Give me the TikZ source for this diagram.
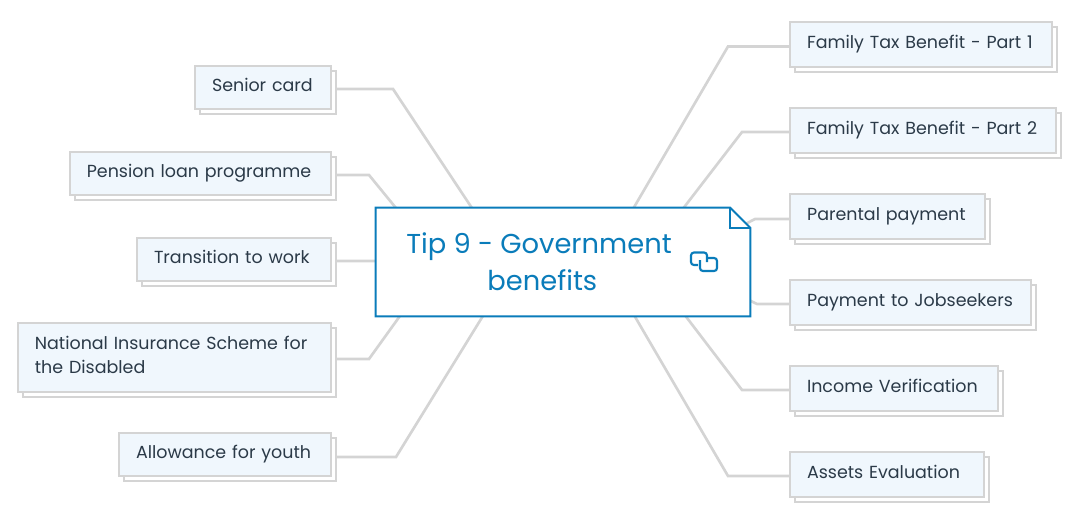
\documentclass[tikz,border=0pt]{standalone}
\usepackage{fontspec}
\setmainfont{Poppins}
\usetikzlibrary{shadows}
\usetikzlibrary{backgrounds}
\usetikzlibrary{calc}
\definecolor{linegray}{HTML}{D4D4D4}
\definecolor{boxfill}{HTML}{F0F7FD}
\definecolor{bodyink}{HTML}{2B3A48}
\definecolor{mainblue}{HTML}{0A7CBA}
\tikzset{
	topic/.style={draw=linegray,line width=1.7pt,fill=boxfill,inner sep=0,text=bodyink,align=left,
		font=\fontsize{13.1}{18}\selectfont,text height=9.6pt,text depth=3.15pt,
		copy shadow={draw=linegray,fill=white,shadow xshift=3.75pt,shadow yshift=-3.75pt}},
	link/.style={draw=linegray,line width=2pt},
	mainline/.style={draw=mainblue,line width=1.5pt}
}
\begin{document}
\begin{tikzpicture}[x=0.75pt,y=-0.75pt]
\useasboundingbox (0,0) rectangle (1077,520);
% left side
\node[topic,minimum width=102pt,minimum height=32.6pt,text width=76.5pt] (senior) at (263,87.5) {Senior card};
\node[topic,minimum width=196pt,minimum height=32.6pt,text width=170.5pt] (pension) at (200.5,173.5) {Pension loan programme};
\node[topic,minimum width=145.5pt,minimum height=32.6pt,text width=120pt] (transition) at (234,259.5) {Transition to work};
\node[topic,minimum width=235pt,minimum height=51.7pt,text width=209.5pt,text depth=21.15pt] (insurance) at (174.5,357.5) {National Insurance Scheme for\\the Disabled};
\node[topic,minimum width=159pt,minimum height=32.6pt,text width=133.5pt] (youth) at (225,454.5) {Allowance for youth};
% right side
\node[topic,minimum width=196.5pt,minimum height=33.8pt,text width=171pt] (part one) at (921,44.5) {Family Tax Benefit - Part 1};
\node[topic,minimum width=199.5pt,minimum height=33.8pt,text width=174pt] (part two) at (923,130.5) {Family Tax Benefit - Part 2};
\node[topic,minimum width=146pt,minimum height=33.8pt,text width=120.5pt] (parental) at (887.5,216.5) {Parental payment};
\node[topic,minimum width=180.5pt,minimum height=33.8pt,text width=155pt] (jobseekers) at (910.5,302.5) {Payment to Jobseekers};
\node[topic,minimum width=156pt,minimum height=33.8pt,text width=130.5pt] (income) at (894,388.5) {Income Verification};
\node[topic,minimum width=145.5pt,minimum height=33.8pt,text width=120pt] (assets) at (887,474.5) {Assets Evaluation};
% centre
\node[minimum width=280.5pt,minimum height=81pt,inner sep=0] (main) at (563,262) {};
\draw[mainline,fill=white] (main.north west) -- ($(main.north east)+(-20,0)$) -- ($(main.north east)+(0,20)$) -- (main.south east) -- (main.south west) -- cycle;
\draw[mainline] ($(main.north east)+(-20,0)$) -- ($(main.north east)+(-20,20)$) -- ($(main.north east)+(0,20)$);
\node[text=mainblue,align=center,font=\fontsize{20.5}{27.6}\selectfont] (title) at (539,262) {Tip 9 - Government\\\hspace*{5pt}benefits};
\draw[mainblue,line width=1.6pt,rounded corners=2.2pt] (698,265) -- (691,265) -- (691,252.5) -- (707,252.5) -- (707,262);
\draw[mainblue,line width=1.6pt,rounded corners=2.2pt] (707,258) -- (717,258) -- (717,271) -- (700,271) -- (700,260);
% connectors
\begin{pgfonlayer}{background}
\foreach \name/\bendx/\bendy/\anc/\dx/\dy in {
	senior/393/89/north west/96/0, pension/369/175/north west/20/0,
	transition/376/261/north west/5/54, insurance/369/359/south west/24/0,
	youth/396/457/south west/107/0,
	part one/728/46.5/north west/258/0, part two/742/132/north west/308/0,
	parental/755/219/north east/-10/19, jobseekers/757/304/south east/-5/-18,
	income/742/390/south west/310/0, assets/728/476/south west/259/0} {
	\coordinate (\name bend) at (\bendx,\bendy);
	\draw[link] (\name bend -| \name.east) -- (\name bend) -- ($(main.\anc)+(\dx,\dy)$);
}
\end{pgfonlayer}
\end{tikzpicture}
\end{document}
